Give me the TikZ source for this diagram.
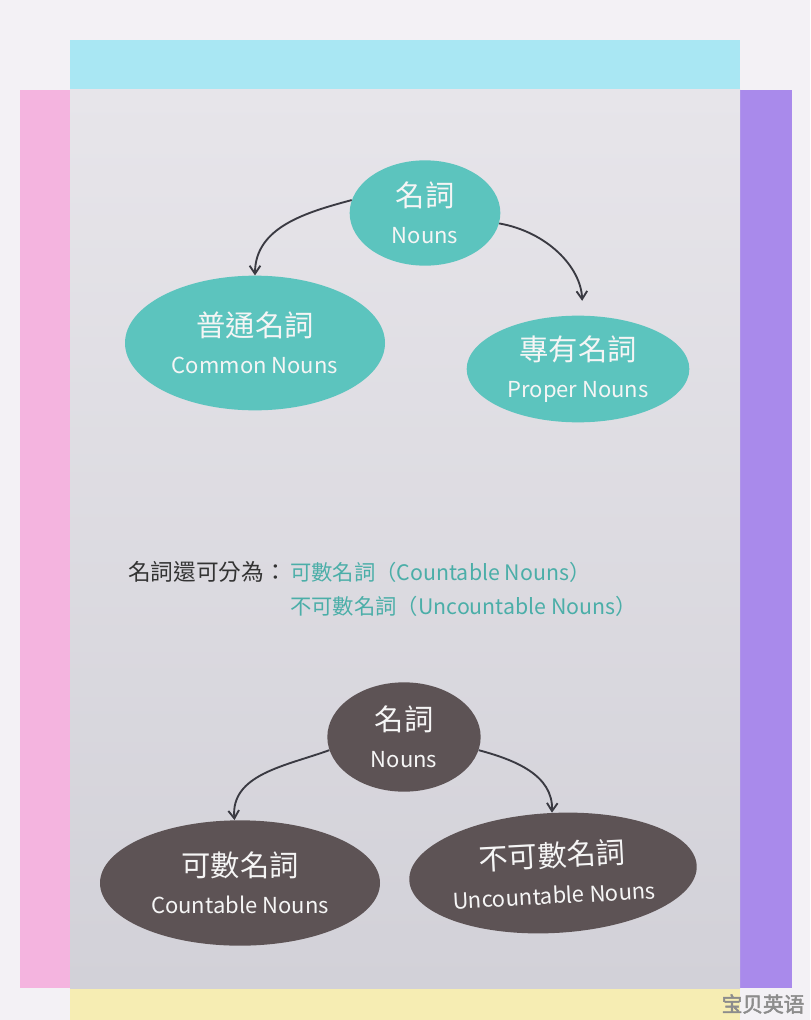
\documentclass[tikz,border=0pt]{standalone}
\usepackage{fontspec}
\setmainfont{Noto Sans CJK TC}
\newfontfamily\wmfont[FakeBold=2.5]{Noto Sans CJK SC}
\usetikzlibrary{shapes.geometric, positioning, arrows.meta}
\definecolor{PageBg}{HTML}{F3F1F5}
\definecolor{SheetTop}{HTML}{E7E5EA}
\definecolor{SheetBot}{HTML}{D2D1D8}
\definecolor{TabCyan}{HTML}{A9E7F3}
\definecolor{TabPink}{HTML}{F4B4DF}
\definecolor{TabPurple}{HTML}{A98AEB}
\definecolor{TabYellow}{HTML}{F6EDB3}
\definecolor{NounTeal}{HTML}{5CC4BE}
\definecolor{NounDark}{HTML}{5D5355}
\definecolor{TealInk}{HTML}{4BAEA8}
\definecolor{ArrowGrey}{HTML}{3A3A42}
\newcommand\zhbig{\fontsize{22}{28}\selectfont}
\newcommand\enbig{\fontsize{16.5}{28}\selectfont}

\begin{document}
\begin{tikzpicture}[x=0.75pt,y=-0.75pt,
    blob/.style={ellipse, align=center, inner sep=0pt, text=white!96!black, font=\zhbig},
    tealblob/.style={blob, fill=NounTeal},
    darkblob/.style={blob, fill=NounDark},
    branch/.style={draw=ArrowGrey, line width=1.4pt, -{Straight Barb[length=6pt,width=8pt]}},
    note/.style={anchor=west, inner sep=0pt, font=\fontsize{17}{20}\selectfont}]
  \useasboundingbox (0,0) rectangle (810,1020);
  % paper and coloured tabs
  \fill[PageBg] (0,0) rectangle (810,1020);
  \fill[TabCyan] (70,40) rectangle (740,90);
  \fill[TabPink] (20,90) rectangle (70,988);
  \fill[TabPurple] (740,90) rectangle (792,988);
  \fill[TabYellow] (70,988) rectangle (740,1020);
  \shade[top color=SheetTop, bottom color=SheetBot] (70,90) rectangle (740,988);

  % first tree
  \node[tealblob, minimum width=113pt, minimum height=79pt] (nouns) at (425,213) {名詞\\{\enbig Nouns}};
  \node[tealblob, minimum width=195pt, minimum height=101pt] (common) at (255,343) {普通名詞\\{\enbig Common Nouns}};
  \node[tealblob, minimum width=167pt, minimum height=80pt] (proper) at (578,369) {專有名詞\\{\enbig Proper Nouns}};
  \draw[branch] (nouns.170) to[out=195,in=90] (common.north);
  \draw[branch, shorten >=11pt] (nouns.-8) to[out=-10,in=92] (proper.85);

  % the sentence in the middle
  \node[note, text=black!80] (split) at (128,572) {名詞還可分為：};
  \node[note, text=TealInk, font=\fontsize{16}{20}\selectfont] (countline) at (290,572) {可數名詞（Countable Nouns）};
  \node[note, text=TealInk, font=\fontsize{16}{20}\selectfont] (uncountline) at (290,606) {不可數名詞（Uncountable Nouns）};

  % second tree
  \node[darkblob, minimum width=115pt, minimum height=82pt] (nounsB) at (404,737) {名詞\\{\enbig Nouns}};
  \node[darkblob, minimum width=210pt, minimum height=94pt] (countable) at (240,883) {可數名詞\\{\enbig Countable Nouns}};
  \node[darkblob, minimum width=212pt, minimum height=90pt, rotate=3] (uncountable) at (553,873) {不可數名詞\\{\enbig Uncountable Nouns}};
  \draw[branch] (nounsB.190) to[out=200,in=95] (countable.95);
  \draw[branch] (nounsB.-10) to[out=-15,in=88] (uncountable.88);

  \node[text=black!45, font=\wmfont\fontsize{15.5}{18}\selectfont] (mark) at (763,1004) {宝贝英语};
\end{tikzpicture}
\end{document}
